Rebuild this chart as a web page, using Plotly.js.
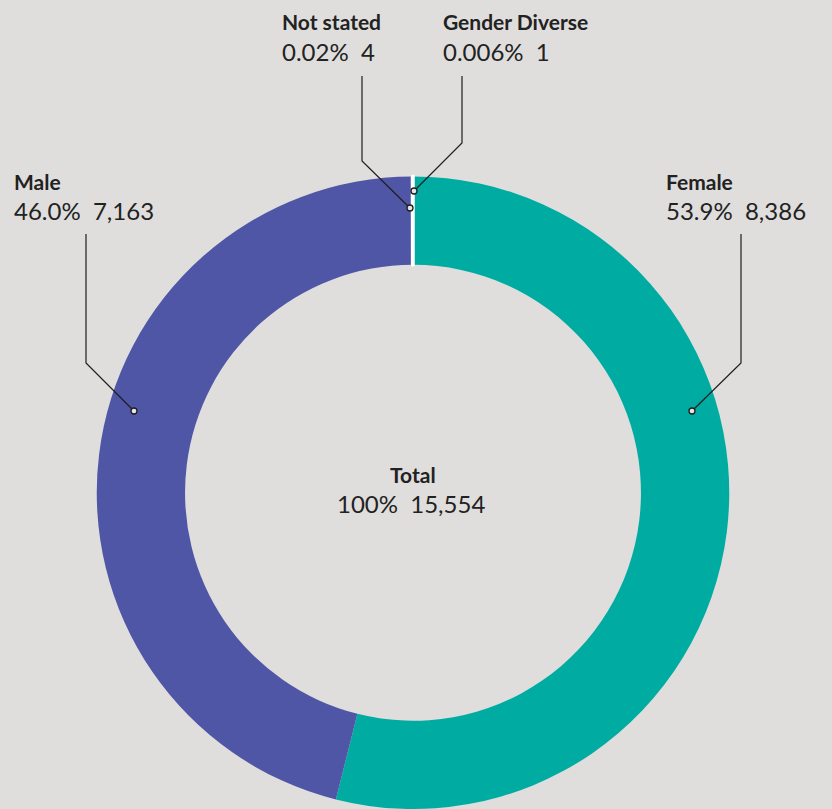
<!DOCTYPE html>
<html>
<head>
<meta charset="utf-8">
<script src="https://cdn.plot.ly/plotly-3.0.1.min.js"></script>
<style>
html,body{margin:0;padding:0;background:#dfdedd;}
#chart{width:832px;height:809px;}
</style>
</head>
<body>
<div id="chart"></div>
<script>
// ---- data ----
var categories = ["Gender Diverse", "Female", "Male", "Not stated"];
var counts = [1, 8386, 7163, 4];
var countLabels = ["1", "8,386", "7,163", "4"];
var pctLabels = ["0.006%", "53.9%", "46.0%", "0.02%"];
var colors = ["#ffffff", "#00aca1", "#4f56a6", "#ffffff"];
var totalLabel = "Total";
var totalPct = "100%";
var totalCount = "15,554";

// ---- layout helpers (pixel space) ----
var W = 832, H = 809;
var cx = 413, cy = 493.5, R = 317, r = 228.5;
var textColor = "#222222";
var FONT = "Lato, 'Open Sans', sans-serif";

// label placement per category
var place = {
  "Not stated":     {tx: 280, ly: 21,  vy: 51,  lx: 362, y0: 76,  y1: 161, dx: 410, dy: 208},
  "Gender Diverse": {tx: 441, ly: 21,  vy: 51,  lx: 462, y0: 76,  y1: 143, dx: 414, dy: 191},
  "Male":           {tx: 12,  ly: 181, vy: 210, lx: 86,  y0: 234, y1: 363, dx: 134, dy: 411},
  "Female":         {tx: 664, ly: 181, vy: 210, lx: 741, y0: 234, y1: 363, dx: 692, dy: 411}
};

var pie = {
  type: "pie",
  labels: categories,
  values: counts,
  sort: false,
  direction: "clockwise",
  rotation: 0,
  hole: r / R,
  textinfo: "none",
  hoverinfo: "label+value+percent",
  marker: {
    colors: colors,
    line: {color: "#ffffff", width: counts.map(function(v){return v < 100 ? 3.5 : 0;})}
  },
  domain: {x: [(cx - R) / W, (cx + R) / W], y: [(H - cy - R) / H, (H - cy + R) / H]},
  showlegend: false
};

var annotations = [];
var shapes = [];
var dotR = 3;
categories.forEach(function(c, i){
  var p = place[c];
  annotations.push({
    xref: "x", yref: "y", x: p.tx, y: p.ly, xanchor: "left", yanchor: "middle",
    text: "<b>" + c + "</b>", showarrow: false,
    font: {family: FONT, size: 21, color: textColor, weight: 700}
  });
  annotations.push({
    xref: "x", yref: "y", x: p.tx, y: p.vy, xanchor: "left", yanchor: "middle",
    text: pctLabels[i] + "\u00a0\u00a0" + countLabels[i], showarrow: false,
    font: {family: FONT, size: 24, color: textColor, weight: 400}
  });
  shapes.push({
    type: "path", xref: "x", yref: "y",
    path: "M" + p.lx + "," + p.y0 + " L" + p.lx + "," + p.y1 + " L" + p.dx + "," + p.dy,
    line: {color: "#1e1e1e", width: 1.2}
  });
  shapes.push({
    type: "circle", xref: "x", yref: "y",
    x0: p.dx - dotR, x1: p.dx + dotR, y0: p.dy - dotR, y1: p.dy + dotR,
    fillcolor: "#e6e5e4", line: {color: "#1e1e1e", width: 1.3}
  });
});

annotations.push({
  xref: "x", yref: "y", x: cx, y: 474, xanchor: "center", yanchor: "middle",
  text: "<b>" + totalLabel + "</b>", showarrow: false,
  font: {family: FONT, size: 21, color: textColor, weight: 700}
});
annotations.push({
  xref: "x", yref: "y", x: 411, y: 503, xanchor: "center", yanchor: "middle",
  text: totalPct + "\u00a0\u00a0" + totalCount, showarrow: false,
  font: {family: FONT, size: 24, color: textColor, weight: 400}
});

var layout = {
  width: W, height: H,
  margin: {l: 0, r: 0, t: 0, b: 0, pad: 0},
  paper_bgcolor: "#dfdedd",
  plot_bgcolor: "rgba(0,0,0,0)",
  xaxis: {range: [0, W], visible: false, fixedrange: true},
  yaxis: {range: [H, 0], visible: false, fixedrange: true},
  annotations: annotations,
  shapes: shapes,
  showlegend: false
};

Plotly.newPlot("chart", [pie], layout, {displayModeBar: false, staticPlot: true});
</script>
</body>
</html>
